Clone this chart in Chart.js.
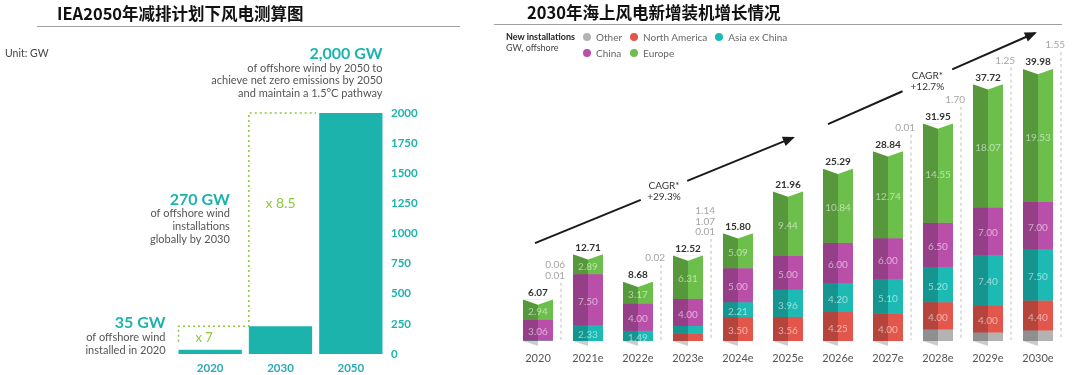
<!DOCTYPE html>
<html>
<head>
<meta charset="utf-8">
<script src="https://cdn.jsdelivr.net/npm/chart.js@4.4.1/dist/chart.umd.min.js"></script>
<style>
body{margin:0;width:1080px;height:375px;background:#fff;position:relative;overflow:hidden;font-family:Lato,"Noto Sans",sans-serif}
.title{position:absolute;font-family:"Noto Sans CJK SC",sans-serif;font-weight:700;font-size:16.5px;color:#111;white-space:nowrap;z-index:2}
.rule{position:absolute;height:0;border-top:1.5px solid #a0a0a0;z-index:2}
canvas{position:absolute;top:0}
#legendHead{position:absolute;left:506px;top:31px;font-size:9px;color:#444;line-height:11px;z-index:2}
#legendHead b{color:#222}
#legend{position:absolute;left:583px;top:31px;display:grid;grid-template-columns:auto auto auto;column-gap:8px;row-gap:4px;font-size:10px;color:#666;z-index:2}
#legend span{display:flex;align-items:center;line-height:12px}
#legend i{display:inline-block;width:8px;height:8px;border-radius:50%;margin-right:5px}
</style>
</head>
<body>

<div class="title" style="left:57px;top:1px">IEA2050年减排计划下风电测算图</div>
<div class="rule" style="left:37px;top:26px;width:423px"></div>
<div class="title" style="left:527px;top:0px">2030年海上风电新增装机增长情况</div>
<div class="rule" style="left:494px;top:24px;width:568px"></div>

<div id="legendHead"><b>New installations</b><br>GW, offshore</div>
<div id="legend"></div>

<canvas id="ieaChart" width="470" height="375" style="left:0"></canvas>
<canvas id="windChart" width="600" height="375" style="left:480px"></canvas>

<script>
/* ---------------- DATA ---------------- */

// left: IEA net zero pathway
const ieaYears = ["2020","2030","2050"]
const ieaValues = [35,230,2000]
const ieaTickStep = 250

// right: new offshore installations, GW
const years = ["2020","2021e","2022e","2023e","2024e","2025e","2026e","2027e","2028e","2029e","2030e"]
const other = [0,0,0,0.01,0,0,0,0.01,1.70,1.25,1.55]
const northAmerica = [0.01,0,0.02,1.07,3.50,3.56,4.25,4.00,4.00,4.00,4.40]
const asiaExChina = [0.06,2.33,1.49,1.14,2.21,3.96,4.20,5.10,5.20,7.40,7.50]
const china = [3.06,7.50,4.00,4.00,5.00,5.00,6.00,6.00,6.50,7.00,7.00]
const europe = [2.94,2.89,3.17,6.31,5.09,9.44,10.84,12.74,14.55,18.07,19.53]
const totals = [6.07,12.71,8.68,12.52,15.80,21.96,25.29,28.84,31.95,37.72,39.98]

const seriesNames = ["Other","North America","Asia ex China","China","Europe"]
const seriesColors = ["#b3b3b3","#e2564b","#1cbab3","#b94fa9","#6cbf4a"]

const cagrLabels = ["+29.3%","+12.7%"]

const TEAL = "#1db3ad"
const LIGHT_GREEN = "#8cc63f"


/* ---------------- LEGEND ---------------- */

const legendEl = document.getElementById("legend")
seriesNames.forEach((n,i)=>{
legendEl.innerHTML += `<span><i style="background:${seriesColors[i]}"></i>${n}</span>`
})


/* ---------------- LEFT CHART ---------------- */

const ieaNotes = {
id:"ieaNotes",
afterDatasetsDraw(chart){
const ctx = chart.ctx
const x = chart.scales.x
const y = chart.scales.y
const bars = chart.getDatasetMeta(0).data
const left = i => bars[i].x - bars[i].width/2

// dotted growth boxes
ctx.save()
ctx.strokeStyle = LIGHT_GREEN
ctx.lineWidth = 1.5
ctx.setLineDash([2,3])
ctx.beginPath()
ctx.moveTo(left(0), bars[0].y - 8)
ctx.lineTo(left(0), y.getPixelForValue(ieaValues[1]))
ctx.lineTo(left(1), y.getPixelForValue(ieaValues[1]))
ctx.lineTo(left(1), y.getPixelForValue(ieaValues[2]))
ctx.lineTo(left(2) - 3, y.getPixelForValue(ieaValues[2]))
ctx.stroke()
ctx.restore()

ctx.save()
ctx.fillStyle = LIGHT_GREEN
ctx.font = "13px Lato"
ctx.textAlign = "center"
ctx.textBaseline = "middle"
ctx.fillText("x 7", x.getPixelForValue(0) - 6, (bars[0].y + y.getPixelForValue(ieaValues[1]))/2)
ctx.font = "14px Lato"
ctx.fillText("x 8.5", x.getPixelForValue(1), y.getPixelForValue(1250))

// text blocks
const block = (rx, ty, head, lines) => {
ctx.textAlign = "right"
ctx.fillStyle = TEAL
ctx.font = "bold 16px Lato"
ctx.fillText(head, rx, ty)
ctx.fillStyle = "#555"
ctx.font = "11px Lato"
lines.forEach((l,k)=> ctx.fillText(l, rx, ty + 14 + k*12.7))
}
const top = y.getPixelForValue(ieaValues[2])
block(bars[2].x + bars[2].width/2, top - 59, "2,000 GW",
["of offshore wind by 2050 to","achieve net zero emissions by 2050","and maintain a 1.5°C pathway"])
block(left(1) - 19, y.getPixelForValue(1280), "270 GW",
["of offshore wind","installations","globally by 2030"])
block(left(0) - 13, y.getPixelForValue(255), "35 GW",
["of offshore wind","installed in 2020"])

ctx.textAlign = "left"
ctx.fillStyle = "#444"
ctx.font = "10.5px Lato"
ctx.fillText("Unit: GW", 5, top - 59)
ctx.restore()
}
}

new Chart(document.getElementById("ieaChart"),{
type:"bar",
data:{
labels:ieaYears,
datasets:[{
data:ieaValues,
backgroundColor:TEAL,
barPercentage:0.9,
categoryPercentage:1
}]
},
options:{
responsive:false,
animation:false,
layout:{padding:{left:175,right:44,top:113,bottom:0}},
plugins:{legend:{display:false},tooltip:{enabled:false}},
scales:{
x:{
grid:{display:false,drawTicks:false},
border:{display:false},
ticks:{color:"#2aa9b3",font:{family:"Lato",size:11.5,weight:"bold"},padding:7},
afterFit:s=>{s.height = 21}
},
y:{
position:"right",
min:0,
max:2000,
grid:{display:false,drawTicks:false},
border:{display:false},
ticks:{stepSize:ieaTickStep,color:TEAL,font:{family:"Lato",size:11.5,weight:"bold"},padding:5,
callback:v=>String(v)},
afterFit:s=>{s.width = 40}
}
}
},
plugins:[ieaNotes]
})


/* ---------------- RIGHT CHART ---------------- */

const series = [other,northAmerica,asiaExChina,china,europe]
const NOTCH = 5

const windNotes = {
id:"windNotes",
afterDatasetsDraw(chart){
const ctx = chart.ctx
const x = chart.scales.x
const y = chart.scales.y
ctx.save()

// chevron shaped segments with a darker left face
series.forEach((vals,d)=>{
chart.getDatasetMeta(d).data.forEach((el,i)=>{
if(!vals[i]) return
const l = el.x - el.width/2, r = el.x + el.width/2
const t = Math.min(el.y,el.base), b = Math.max(el.y,el.base)
const shape = (x0,x1,yl,yr,yb0,yb1) => {
ctx.beginPath()
ctx.moveTo(x0,yl); ctx.lineTo(x1,yr); ctx.lineTo(x1,yb1); ctx.lineTo(x0,yb0)
ctx.closePath(); ctx.fill()
}
ctx.fillStyle = seriesColors[d]
shape(l, r, t, t, b, b)
shape(l, el.x, b, b + NOTCH, b, b + NOTCH)
shape(el.x, r, b + NOTCH, b, b + NOTCH, b)
ctx.fillStyle = "rgba(0,0,0,0.2)"
shape(l, el.x, t, t + NOTCH, b, b + NOTCH)
})
})

// notch at the top of each column
chart.getDatasetMeta(4).data.forEach(el=>{
const l = el.x - el.width/2, r = el.x + el.width/2
ctx.fillStyle = "#fff"
ctx.beginPath()
ctx.moveTo(l - 0.5, el.y - 0.5); ctx.lineTo(r + 0.5, el.y - 0.5); ctx.lineTo(el.x, el.y + NOTCH)
ctx.closePath(); ctx.fill()
})

// values inside segments
ctx.textAlign = "center"
ctx.textBaseline = "middle"
ctx.font = "10px Lato"
ctx.fillStyle = "rgba(255,255,255,0.55)"
series.forEach((vals,d)=>{
if(d === 0) return
chart.getDatasetMeta(d).data.forEach((el,i)=>{
if(vals[i] >= 1.2) ctx.fillText(vals[i].toFixed(2), el.x, (el.y + el.base)/2 + 2)
})
})

years.forEach((yr,i)=>{
const topEl = chart.getDatasetMeta(4).data[i]
const top = topEl.y
const base = y.getPixelForValue(0)

// totals
ctx.fillStyle = "#333"
ctx.font = "bold 10px Lato"
ctx.textAlign = "center"
ctx.textBaseline = "bottom"
ctx.fillText(totals[i].toFixed(2), topEl.x, top - 2)

// small values on a dashed leader
const small = []
for(let d = series.length - 1; d >= 0; d--){
const v = series[d][i]
if(v > 0 && (d === 0 || v < 1.2)) small.push(v)
}
if(!small.length) return
const lx = topEl.x + topEl.width/2 + 8
const lowest = top - 24
ctx.font = "10px Lato"
ctx.fillStyle = "#a5a5a5"
ctx.textAlign = "right"
ctx.textBaseline = "middle"
small.forEach((v,k)=>{
ctx.fillText(v.toFixed(2), lx + 4, lowest - (small.length - 1 - k)*10.5)
})
ctx.strokeStyle = "#bdbdbd"
ctx.lineWidth = 1
ctx.setLineDash([3,3])
ctx.beginPath()
ctx.moveTo(lx, lowest + 7)
ctx.lineTo(lx, base - 1)
ctx.stroke()
ctx.setLineDash([])
})

// CAGR arrows
const arrows = [
{from:[-0.06,14.4], to:[5.1,29.9], gap:[0.41,0.59]},
{from:[5.8,31.9], to:[9.94,45.3], gap:[0.36,0.6]}
]
arrows.forEach((a,k)=>{
const x1 = x.getPixelForValue(a.from[0]), y1 = y.getPixelForValue(a.from[1])
const x2 = x.getPixelForValue(a.to[0]), y2 = y.getPixelForValue(a.to[1])
const at = t => [x1 + (x2-x1)*t, y1 + (y2-y1)*t]
ctx.strokeStyle = "#1a1a1a"
ctx.fillStyle = "#1a1a1a"
ctx.lineWidth = 2
const g1 = at(a.gap[0]), g2 = at(a.gap[1])
ctx.beginPath()
ctx.moveTo(x1,y1); ctx.lineTo(g1[0],g1[1])
ctx.moveTo(g2[0],g2[1]); ctx.lineTo(x2,y2)
ctx.stroke()
const ang = Math.atan2(y2-y1,x2-x1)
ctx.beginPath()
ctx.moveTo(x2 + 2*Math.cos(ang), y2 + 2*Math.sin(ang))
ctx.lineTo(x2 - 10*Math.cos(ang) + 5*Math.sin(ang), y2 - 10*Math.sin(ang) - 5*Math.cos(ang))
ctx.lineTo(x2 - 10*Math.cos(ang) - 5*Math.sin(ang), y2 - 10*Math.sin(ang) + 5*Math.cos(ang))
ctx.closePath()
ctx.fill()
const mid = at((a.gap[0] + a.gap[1])/2)
ctx.fillStyle = "#333"
ctx.font = "10px Lato"
ctx.textAlign = "center"
ctx.textBaseline = "middle"
ctx.fillText("CAGR*", mid[0], mid[1] - 5)
ctx.fillText(cagrLabels[k], mid[0], mid[1] + 6)
})

ctx.restore()
}
}

new Chart(document.getElementById("windChart"),{
type:"bar",
data:{
labels:years,
datasets:series.map((vals,d)=>({
label:seriesNames[d],
data:vals,
backgroundColor:seriesColors[d],
barPercentage:0.6,
categoryPercentage:1
}))
},
options:{
responsive:false,
animation:false,
layout:{padding:{left:33,right:17,top:35,bottom:0}},
plugins:{legend:{display:false},tooltip:{enabled:false}},
scales:{
x:{
stacked:true,
grid:{display:false,drawTicks:false},
border:{display:false},
ticks:{color:"#555",font:{family:"Lato",size:11},padding:11},
afterFit:s=>{s.height = 34}
},
y:{
stacked:true,
display:false,
min:0,
max:45
}
}
},
plugins:[windNotes]
})
</script>
</body>
</html>
